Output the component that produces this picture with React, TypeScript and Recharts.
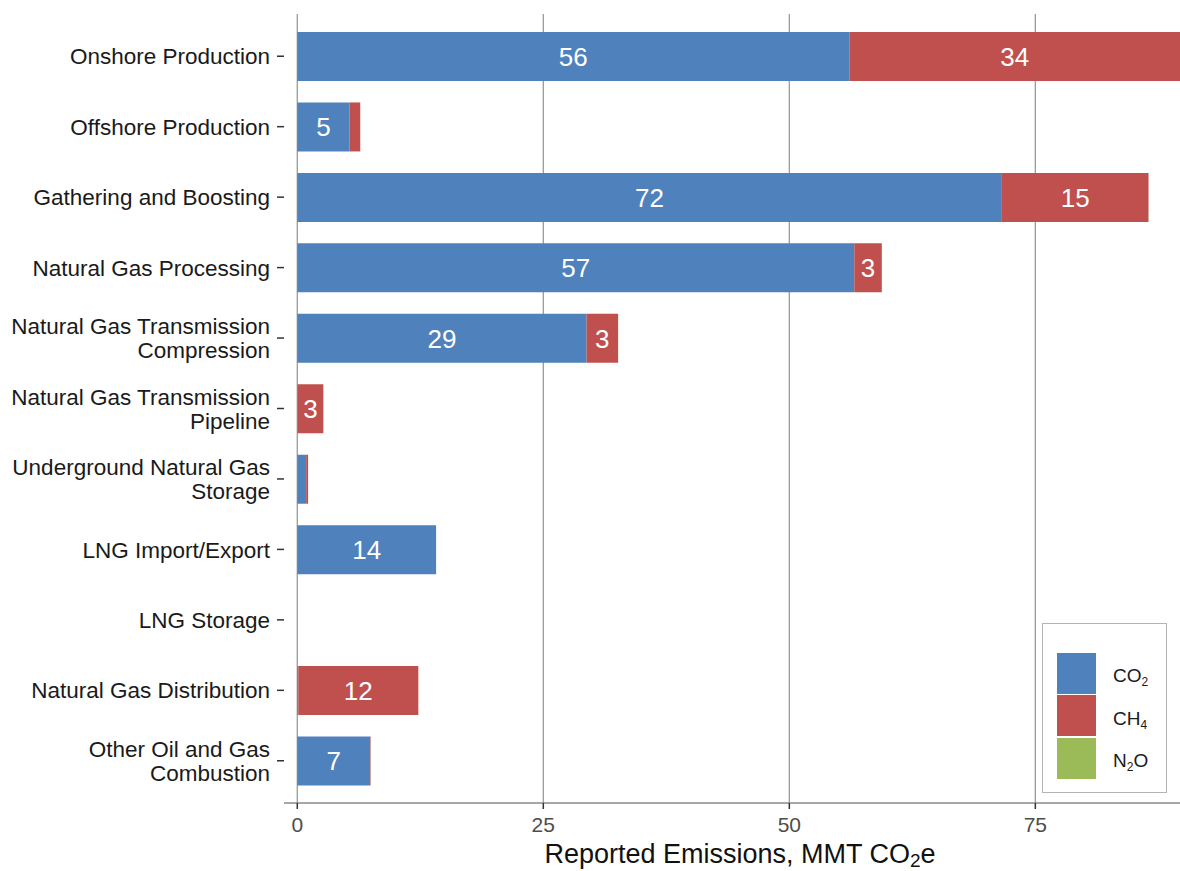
import React from "react";
import { BarChart, Bar, XAxis, YAxis, CartesianGrid, LabelList, Legend } from "recharts";

const categories = [
  "Onshore Production",
  "Offshore Production",
  "Gathering and Boosting",
  "Natural Gas Processing",
  "Natural Gas Transmission\nCompression",
  "Natural Gas Transmission\nPipeline",
  "Underground Natural Gas\nStorage",
  "LNG Import/Export",
  "LNG Storage",
  "Natural Gas Distribution",
  "Other Oil and Gas\nCombustion",
];
const co2 = [56.1, 5.3, 71.6, 56.6, 29.4, 0.05, 0.9, 14.1, 0, 0.1, 7.4];
const ch4 = [34.0, 1.1, 14.9, 2.8, 3.2, 2.6, 0.2, 0, 0, 12.2, 0.05];
const n2o = [0.01, 0, 0.01, 0.01, 0.01, 0, 0, 0.01, 0, 0, 0.01];
const xTicks = [0, 25, 50, 75];

const series = [
  { key: "co2", label: "CO", sub: "2", tail: "", color: "#4F81BD" },
  { key: "ch4", label: "CH", sub: "4", tail: "", color: "#C0504D" },
  { key: "n2o", label: "N", sub: "2", tail: "O", color: "#9BBB59" },
];

const data = categories.map((name, i) => ({ name, co2: co2[i], ch4: ch4[i], n2o: n2o[i] }));

const FONT = '"Liberation Sans", Arial, Helvetica, sans-serif';

function CategoryTick(props: any) {
  const { x, y, payload } = props;
  const lines = String(payload.value).split("\n");
  const lh = 24;
  const start = y - ((lines.length - 1) * lh) / 2;
  return (
    <text x={x} y={start} textAnchor="end" fontSize={22.5} fill="#1a1a1a" fontFamily={FONT}>
      {lines.map((l, i) => (
        <tspan key={i} x={x} y={start + i * lh} dy="0.36em">
          {l}
        </tspan>
      ))}
    </text>
  );
}

function barLabel(dataKey: string) {
  return (props: any) => {
    const { x, y, width, height, value } = props;
    if (value == null || value < 2.5) return null;
    return (
      <text
        x={x + width / 2}
        y={y + height / 2}
        dy="0.36em"
        textAnchor="middle"
        fontSize={26}
        fill="#ffffff"
        fontFamily={FONT}
      >
        {Math.round(value)}
      </text>
    );
  };
}

function AxisTitle(props: any) {
  const vb = props.viewBox || {};
  const cx = vb.x + vb.width / 2 + 8;
  return (
    <text x={cx} y={vb.y + 60} textAnchor="middle" fontSize={27} fill="#111" fontFamily={FONT}>
      Reported Emissions, MMT CO
      <tspan fontSize={19} dy={4}>2</tspan>
      <tspan dy={-4}>e</tspan>
    </text>
  );
}

function LegendBox() {
  return (
    <div
      style={{
        boxSizing: "border-box",
        width: 125,
        height: 170,
        border: "1.5px solid #b3b3b3",
        background: "#fff",
        paddingTop: 28,
        paddingLeft: 14,
        fontFamily: FONT,
      }}
    >
      {series.map((s) => (
        <div key={s.key} style={{ display: "flex", alignItems: "center", height: 42.5 }}>
          <div style={{ width: 39, height: 41, background: s.color }} />
          <div style={{ marginLeft: 17, fontSize: 19, lineHeight: "20px", color: "#1a1a1a", marginTop: 6 }}>
            {s.label}
            <sub style={{ fontSize: 12, verticalAlign: "-4px", lineHeight: 0 }}>{s.sub}</sub>
            {s.tail}
          </div>
        </div>
      ))}
    </div>
  );
}

export default function App() {
  return (
    <div style={{ position: "absolute", left: 0, top: 0, width: 1180, height: 871, background: "#fff" }}>
      <BarChart
        width={1180}
        height={871}
        data={data}
        layout="vertical"
        margin={{ top: 14, right: 0, left: 0, bottom: 0 }}
        barSize={49}
      >
        <CartesianGrid horizontal={false} syncWithTicks stroke="#9a9a9a" strokeWidth={1.3} />
        <XAxis
          type="number"
          domain={[-1.35, 89.7]}
          allowDataOverflow
          ticks={xTicks}
          height={68}
          tickSize={6}
          tickMargin={8}
          axisLine={{ stroke: "#8a8a8a", strokeWidth: 1.3 }}
          tickLine={{ stroke: "#333", strokeWidth: 1.5 }}
          tick={{ fontSize: 21, fill: "#4d4d4d", fontFamily: FONT }}
          label={{ content: (p: any) => <AxisTitle {...p} /> }}
        />
        <YAxis
          type="category"
          dataKey="name"
          width={284}
          axisLine={false}
          tickSize={7}
          tickMargin={7}
          tickLine={{ stroke: "#333", strokeWidth: 1.5 }}
          tick={<CategoryTick />}
          interval={0}
          padding={{ top: 7, bottom: 7 }}
        />
        <Legend
          layout="vertical"
          align="center"
          verticalAlign="middle"
          wrapperStyle={{ left: 1042, top: 623, width: 125, height: 170 }}
          content={() => <LegendBox />}
        />
        {series.map((s) => (
          <Bar key={s.key} dataKey={s.key} stackId="a" fill={s.color} isAnimationActive={false}>
            <LabelList dataKey={s.key} content={barLabel(s.key)} />
          </Bar>
        ))}
      </BarChart>
    </div>
  );
}
